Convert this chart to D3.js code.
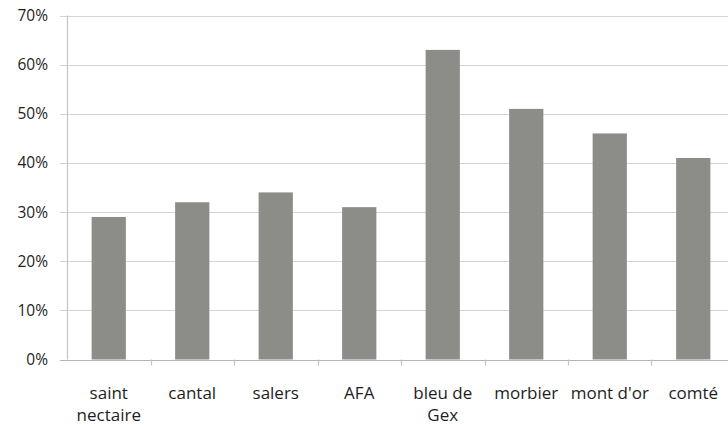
<!DOCTYPE html>
<html>
<head>
<meta charset="utf-8">
<script src="https://cdn.jsdelivr.net/npm/d3@7"></script>
<style>
  body { margin: 0; background: #fff; }
  text { font-family: 'Open Sans', sans-serif; fill: #1e1e1e; }
</style>
</head>
<body>
<div id="chart"></div>
<script>
// Data
const cheeses = ['saint nectaire', 'cantal', 'salers', 'AFA', 'bleu de Gex', 'morbier', "mont d'or", 'comté'];
const shares = [0.29, 0.32, 0.34, 0.31, 0.63, 0.51, 0.46, 0.41];
const yTicks = [0, 0.1, 0.2, 0.3, 0.4, 0.5, 0.6, 0.7];
// label lines for the x axis (wrapped like the original)
const labelLines = [['saint', 'nectaire'], ['cantal'], ['salers'], ['AFA'], ['bleu de', 'Gex'], ['morbier'], ["mont d'or"], ['comté']];

const width = 728;
const height = 425;
const margin = { t: 16, r: 0, b: 65, l: 67 };
const plotRight = 735; // the plot runs a bit past the right edge

const svg = d3.select('#chart')
  .append('svg')
  .attr('width', width)
  .attr('height', height);

const x = d3.scaleBand()
  .domain(cheeses)
  .range([margin.l, plotRight])
  .paddingInner(0.59)
  .paddingOuter(0.295);

const y = d3.scaleLinear()
  .domain([0, 0.7])
  .range([height - margin.b - 0.5, margin.t - 0.5]);

// gridlines
svg.append('g')
  .selectAll('line')
  .data(yTicks)
  .join('line')
  .attr('x1', margin.l - 7)
  .attr('x2', width)
  .attr('y1', (d) => Math.round(y(d)) + 0.5)
  .attr('y2', (d) => Math.round(y(d)) + 0.5)
  .attr('stroke', (d) => (d === 0 ? '#b5b5b5' : '#d4d4d4'))
  .attr('stroke-width', 1.2);

// y axis line
svg.append('line')
  .attr('x1', margin.l + 0.5)
  .attr('x2', margin.l + 0.5)
  .attr('y1', y(0.7))
  .attr('y2', y(0))
  .attr('stroke', '#c4c4c4')
  .attr('stroke-width', 1.2);

// y labels
svg.append('g')
  .selectAll('text')
  .data(yTicks)
  .join('text')
  .attr('x', 48)
  .attr('y', (d) => y(d) + 5.5)
  .attr('text-anchor', 'end')
  .style('font-size', '15.5px')
  .text((d) => d3.format('.0%')(d));

// x tick marks at category boundaries
svg.append('g')
  .selectAll('line')
  .data(cheeses.slice(1))
  .join('line')
  .attr('x1', (d) => Math.round(x(d) - (x.step() - x.bandwidth()) / 2) + 0.5)
  .attr('x2', (d) => Math.round(x(d) - (x.step() - x.bandwidth()) / 2) + 0.5)
  .attr('y1', y(0))
  .attr('y2', y(0) + 6)
  .attr('stroke', '#c4c4c4')
  .attr('stroke-width', 1.2);

// bars
svg.append('g')
  .selectAll('rect')
  .data(cheeses)
  .join('rect')
  .attr('x', (d) => x(d))
  .attr('width', x.bandwidth())
  .attr('y', (d, i) => y(shares[i]))
  .attr('height', (d, i) => y(0) - y(shares[i]))
  .attr('fill', '#8c8c88');

// x labels
const xl = svg.append('g')
  .selectAll('text')
  .data(cheeses)
  .join('text')
  .attr('text-anchor', 'middle')
  .attr('transform', (d) => `translate(${x(d) + x.bandwidth() / 2}, 399)`)
  .style('font-size', '17px');

xl.selectAll('tspan')
  .data((d, i) => labelLines[i])
  .join('tspan')
  .attr('x', 0)
  .attr('y', (d, i) => i * 22)
  .text((d) => d);
</script>
</body>
</html>
